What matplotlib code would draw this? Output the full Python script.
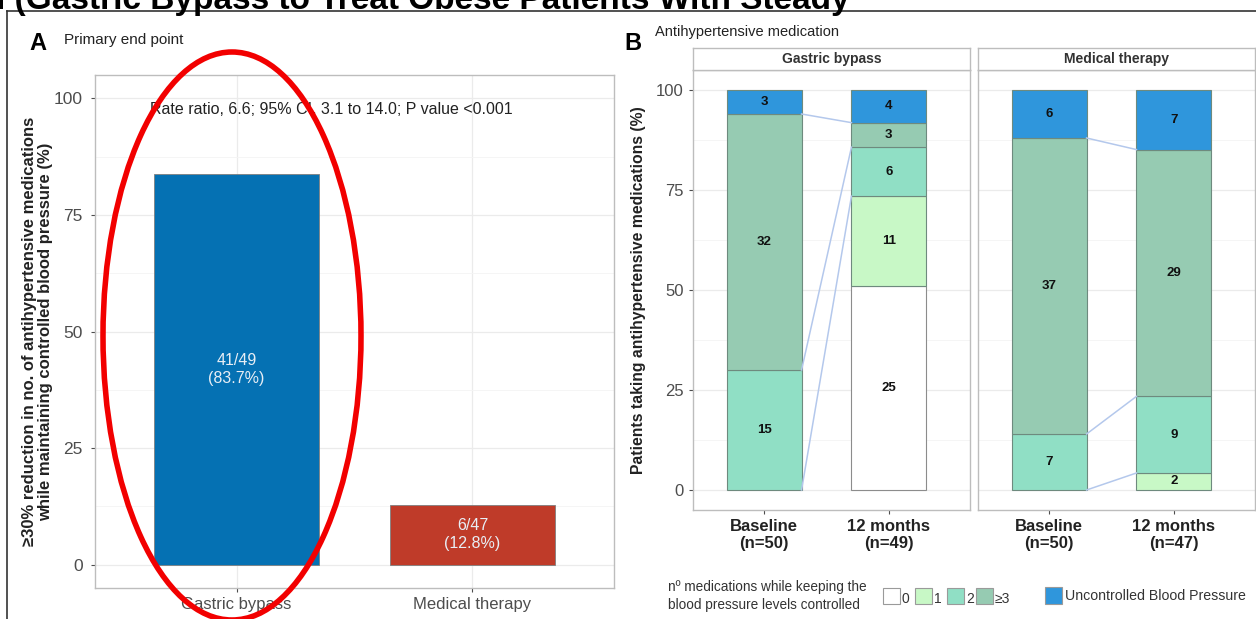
import matplotlib
matplotlib.use("Agg")
import matplotlib.pyplot as plt
from matplotlib.patches import Ellipse, Rectangle
import numpy as np

plt.rcParams['font.family'] = ['Liberation Sans', 'DejaVu Sans']

W, H = 1256, 619

# ---- Panel A data ----
a_groups = ["Gastric bypass", "Medical therapy"]
a_values = [83.7, 12.8]
a_labels = ["41/49\n(83.7%)", "6/47\n(12.8%)"]
a_colors = ["#0571B3", "#BF3B29"]
a_yticks = [0, 25, 50, 75, 100]

# ---- Panel B data (counts per segment, bottom to top) ----
b_facets = ["Gastric bypass", "Medical therapy"]
b_times = ["Baseline", "12 months"]
b_n = [[50, 49], [50, 47]]
b_cats = ["0", "1", "2", "≥3", "Uncontrolled Blood Pressure"]
b_colors = ["#FFFFFF", "#C8F8C6", "#90DFC5", "#96CBB2", "#2F96DC"]
b_counts = {
    "Gastric bypass": [[0, 0, 15, 32, 3], [25, 11, 6, 3, 4]],
    "Medical therapy": [[0, 0, 7, 37, 6], [0, 2, 9, 29, 7]],
}

fig = plt.figure(figsize=(W / 100, H / 100), dpi=100)


def rect(l, t, r, b):
    return [l / W, 1 - b / H, (r - l) / W, (b - t) / H]


def style_gg(ax):
    for s in ax.spines.values():
        s.set_color("#BDBDBD")
        s.set_linewidth(1.0)
    ax.set_axisbelow(True)
    ax.grid(True, which="major", color="#EBEBEB", lw=0.9)
    ax.grid(True, which="minor", axis="y", color="#F4F4F4", lw=0.6)
    ax.tick_params(colors="#4D4D4D", length=3, width=0.8, labelcolor="#4D4D4D")


# ---------------- Panel A ----------------
axA = fig.add_axes(rect(95, 75, 614, 588))
xA = np.arange(1, len(a_groups) + 1)
axA.bar(xA, a_values, width=0.7, color=a_colors, edgecolor="#7F7F7F", lw=0.6, zorder=3)
for x, v, lab in zip(xA, a_values, a_labels):
    axA.text(x, v / 2, lab, ha="center", va="center", color="#E8EEF5", fontsize=11.5, zorder=4,
             linespacing=1.25)
axA.set_xlim(0.4, 2.6)
axA.set_ylim(-5, 105)
axA.set_xticks(xA)
axA.set_xticklabels(a_groups, fontsize=12)
axA.set_yticks(a_yticks)
axA.set_yticklabels([str(t) for t in a_yticks], fontsize=12.5)
axA.set_yticks([12.5, 37.5, 62.5, 87.5], minor=True)
axA.tick_params(axis="y", which="minor", length=0)
style_gg(axA)
axA.tick_params(axis="y", which="major", pad=6)
axA.text(1.4, 97.5, "Rate ratio, 6.6; 95% CI, 3.1 to 14.0; P value <0.001", ha="center", va="center",
         fontsize=11.5, color="#222222")
axA.set_ylabel("≥30% reduction in no. of antihypertensive medications\nwhile maintaining controlled blood pressure (%)",
               fontsize=12, fontweight="bold", color="#222222", labelpad=0, linespacing=1.15)

fig.text(38 / W, 1 - 43 / H, "A", fontsize=17, fontweight="bold", ha="center", va="center")
fig.text(64 / W, 1 - 40 / H, "Primary end point", fontsize=11, ha="left", va="center", color="#222222")

# ---------------- Panel B ----------------
facet_lr = [(693, 970), (978, 1255)]
b_yticks = [0, 25, 50, 75, 100]
xB = np.arange(1, len(b_times) + 1)
bw = 0.6
for fi, (facet, (l, r)) in enumerate(zip(b_facets, facet_lr)):
    ax = fig.add_axes(rect(l, 70, r, 510))
    style_gg(ax)
    counts = b_counts[facet]
    pcts = [np.array(c) / n * 100 for c, n in zip(counts, b_n[fi])]
    cums = [np.concatenate([[0], np.cumsum(p)]) for p in pcts]
    for ti in range(len(b_times)):
        for ci in range(len(b_cats)):
            h = pcts[ti][ci]
            if h <= 0:
                continue
            ax.bar(xB[ti], h, bottom=cums[ti][ci], width=bw, color=b_colors[ci],
                   edgecolor="#6E8A7E" if ci > 0 else "#8C8C8C", lw=0.8, zorder=3)
            ax.text(xB[ti], cums[ti][ci] + h / 2, str(counts[ti][ci]), ha="center", va="center",
                    fontsize=9.5, fontweight="bold", color="#111111", zorder=5)
    # flow lines between bars (tops of categories 1, 2, >=3)
    for ci in [1, 2, 3]:
        y0 = cums[0][ci + 1]
        y1 = cums[1][ci + 1]
        ax.plot([xB[0] + bw / 2, xB[1] - bw / 2], [y0, y1], color="#B4C8EC", lw=1.1, zorder=4)
    ax.set_xlim(0.43, 2.65)
    ax.set_ylim(-5, 105)
    ax.set_xticks(xB)
    ax.set_xticklabels([f"{t}\n(n={n})" for t, n in zip(b_times, b_n[fi])], fontsize=12,
                       fontweight="bold", color="#222222", linespacing=1.2)
    ax.set_yticks(b_yticks)
    ax.set_yticks([12.5, 37.5, 62.5, 87.5], minor=True)
    ax.tick_params(axis="y", which="minor", length=0)
    ax.grid(True, axis="x", which="major", lw=0)
    if fi == 0:
        ax.set_yticklabels([str(t) for t in b_yticks], fontsize=12)
        ax.set_ylabel("Patients taking antihypertensive medications (%)", fontsize=11.3,
                      fontweight="bold", color="#222222", labelpad=7)
    else:
        ax.tick_params(axis="y", which="both", length=0, labelleft=False)
    # strip
    sax = fig.add_axes(rect(l, 48, r, 70))
    sax.set_xticks([])
    sax.set_yticks([])
    for s in sax.spines.values():
        s.set_color("#BDBDBD")
        s.set_linewidth(1.0)
    sax.text(0.5, 0.5, facet, ha="center", va="center", fontsize=10, fontweight="bold",
             color="#333333", transform=sax.transAxes)

fig.text(633 / W, 1 - 43 / H, "B", fontsize=17, fontweight="bold", ha="center", va="center")
fig.text(655 / W, 1 - 32 / H, "Antihypertensive medication", fontsize=10.5, ha="left", va="center",
         color="#222222")

# ---- Legend for panel B ----
fig.text(668 / W, 1 - 596 / H, "nº medications while keeping the\nblood pressure levels controlled",
         fontsize=9.8, ha="left", va="center", color="#333333", linespacing=1.3)
box_x = [883, 915, 947, 976]
for ci, bx in enumerate(box_x):
    fig.add_artist(Rectangle((bx / W, 1 - 604 / H), 17 / W, 16 / H, transform=fig.transFigure,
                             facecolor=b_colors[ci], edgecolor="#9A9A9A", lw=0.8))
    fig.text((bx + 19) / W, 1 - 599 / H, b_cats[ci], fontsize=10, ha="left", va="center", color="#333333")
fig.add_artist(Rectangle((1045 / W, 1 - 604 / H), 17 / W, 17 / H, transform=fig.transFigure,
                         facecolor=b_colors[4], edgecolor="#9A9A9A", lw=0.8))
fig.text(1065 / W, 1 - 596 / H, b_cats[4], fontsize=10.2, ha="left", va="center", color="#333333")

# ---- Cut-off title and frame ----
fig.text(-4 / W, 1 - 9 / H, "i (Gastric Bypass to Treat Obese Patients With Steady", fontsize=24,
         fontweight="bold", ha="left", va="baseline", color="#000000")
fig.add_artist(plt.Line2D([7 / W, 1], [1 - 11 / H, 1 - 11 / H], transform=fig.transFigure,
                          color="#333333", lw=1.2))
fig.add_artist(plt.Line2D([7 / W, 7 / W], [1 - 11 / H, 0], transform=fig.transFigure,
                          color="#333333", lw=1.2))

# ---- Red ellipse highlighting ----
fig.add_artist(Ellipse((232 / W, 1 - 336 / H), 258 / W, 568 / H, transform=fig.transFigure,
                       fill=False, edgecolor="#F20000", lw=4))

fig.savefig("out.png", dpi=100)
